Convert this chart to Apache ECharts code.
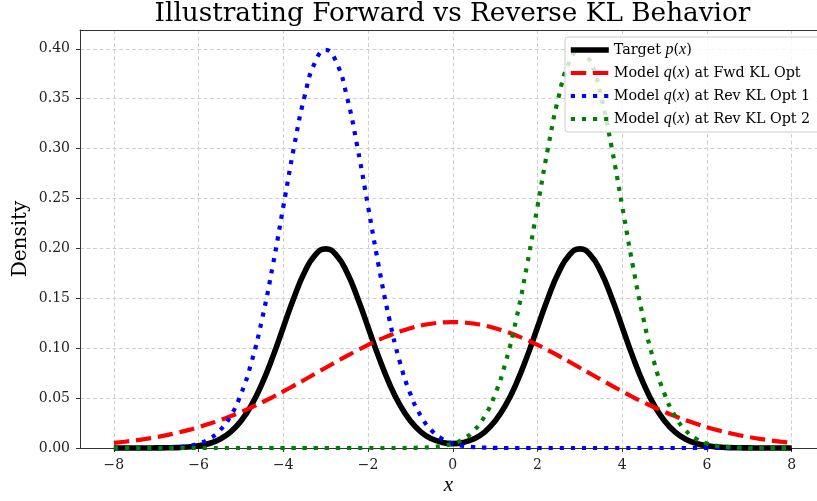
<!DOCTYPE html>
<html>
<head>
<meta charset="utf-8">
<script src="https://cdn.jsdelivr.net/npm/echarts@6/dist/echarts.min.js"></script>
<style>html,body{margin:0;padding:0;background:#fff;overflow:hidden;}#c{width:817px;height:501px;}</style>
</head>
<body>
<div id="c"></div>
<script>
var xs = [-8,-7.75,-7.5,-7.25,-7,-6.75,-6.5,-6.25,-6,-5.75,-5.5,-5.25,-5,-4.75,-4.5,-4.25,-4,-3.75,-3.5,-3.25,-3,-2.75,-2.5,-2.25,-2,-1.75,-1.5,-1.25,-1,-0.75,-0.5,-0.25,0,0.25,0.5,0.75,1,1.25,1.5,1.75,2,2.25,2.5,2.75,3,3.25,3.5,3.75,4,4.25,4.5,4.75,5,5.25,5.5,5.75,6,6.25,6.5,6.75,7,7.25,7.5,7.75,8];

var targetP = [0.0000,0.0000,0.0000,0.0000,0.0001,0.0002,0.0004,0.0010,0.0022,0.0045,0.0088,0.0159,0.0270,0.0431,0.0648,0.0913,0.1210,0.1506,0.1760,0.1933,0.1995,0.1933,0.1760,0.1506,0.1210,0.0913,0.0648,0.0432,0.0271,0.0160,0.0092,0.0056,0.0044,0.0056,0.0092,0.0160,0.0271,0.0432,0.0648,0.0913,0.1210,0.1506,0.1760,0.1933,0.1995,0.1933,0.1760,0.1506,0.1210,0.0913,0.0648,0.0431,0.0270,0.0159,0.0088,0.0045,0.0022,0.0010,0.0004,0.0002,0.0001,0.0000,0.0000,0.0000,0.0000];

var fwdQ = [0.0051,0.0063,0.0076,0.0091,0.0109,0.0129,0.0153,0.0179,0.0209,0.0242,0.0278,0.0318,0.0361,0.0408,0.0458,0.0511,0.0567,0.0625,0.0684,0.0744,0.0804,0.0864,0.0923,0.0979,0.1033,0.1083,0.1127,0.1167,0.1200,0.1227,0.1246,0.1258,0.1262,0.1258,0.1246,0.1227,0.1200,0.1167,0.1127,0.1083,0.1033,0.0979,0.0923,0.0864,0.0804,0.0744,0.0684,0.0625,0.0567,0.0511,0.0458,0.0408,0.0361,0.0318,0.0278,0.0242,0.0209,0.0179,0.0153,0.0129,0.0109,0.0091,0.0076,0.0063,0.0051];

var rev1Q = [0.0000,0.0000,0.0000,0.0000,0.0001,0.0004,0.0009,0.0020,0.0044,0.0091,0.0175,0.0317,0.0540,0.0863,0.1295,0.1826,0.2420,0.3011,0.3521,0.3867,0.3989,0.3867,0.3521,0.3011,0.2420,0.1826,0.1295,0.0863,0.0540,0.0317,0.0175,0.0091,0.0044,0.0020,0.0009,0.0004,0.0001,0.0000,0.0000,0.0000,0.0000,0.0000,0.0000,0.0000,0.0000,0.0000,0.0000,0.0000,0.0000,0.0000,0.0000,0.0000,0.0000,0.0000,0.0000,0.0000,0.0000,0.0000,0.0000,0.0000,0.0000,0.0000,0.0000,0.0000,0.0000];

var rev2Q = [0.0000,0.0000,0.0000,0.0000,0.0000,0.0000,0.0000,0.0000,0.0000,0.0000,0.0000,0.0000,0.0000,0.0000,0.0000,0.0000,0.0000,0.0000,0.0000,0.0000,0.0000,0.0000,0.0000,0.0000,0.0000,0.0000,0.0000,0.0000,0.0001,0.0004,0.0009,0.0020,0.0044,0.0091,0.0175,0.0317,0.0540,0.0863,0.1295,0.1826,0.2420,0.3011,0.3521,0.3867,0.3989,0.3867,0.3521,0.3011,0.2420,0.1826,0.1295,0.0863,0.0540,0.0317,0.0175,0.0091,0.0044,0.0020,0.0009,0.0004,0.0001,0.0000,0.0000,0.0000,0.0000];

var xTicks = [-8,-6,-4,-2,0,2,4,6,8];
var yTicks = [0,0.05,0.1,0.15,0.2,0.25,0.3,0.35,0.4];

var seriesNames = ['Target p(x)','Model q(x) at Fwd KL Opt','Model q(x) at Rev KL Opt 1','Model q(x) at Rev KL Opt 2'];
var richNames = {
  'Target p(x)': '{n|Target }{m|p}{n|(}{m|x}{n|)}',
  'Model q(x) at Fwd KL Opt': '{n|Model }{m|q}{n|(}{m|x}{n|) at Fwd KL Opt}',
  'Model q(x) at Rev KL Opt 1': '{n|Model }{m|q}{n|(}{m|x}{n|) at Rev KL Opt 1}',
  'Model q(x) at Rev KL Opt 2': '{n|Model }{m|q}{n|(}{m|x}{n|) at Rev KL Opt 2}'
};

function pairs(ys){ return xs.map(function(x,i){ return [x, ys[i]]; }); }
function minus(s){ return String(s).replace('-', '\u2212'); }

var serif = 'DejaVu Serif';
var chart = echarts.init(document.getElementById('c'), null, {renderer:'canvas'});
var gridLine = {show:true, lineStyle:{color:'#d0d0d0', width:1, type:[4,2.5]}};
var option = {
  animation:false,
  backgroundColor:'#fff',
  title:{
    text:'Illustrating Forward vs Reverse KL Behavior',
    left:447.5, top:-3.5, textAlign:'center',
    textStyle:{fontFamily:serif, fontSize:26.3, fontWeight:'normal', color:'#000'}
  },
  grid:{left:80, top:30, width:737, height:418, containLabel:false},
  legend:{
    orient:'vertical', left:565, top:37,
    data:seriesNames,
    itemWidth:38, itemHeight:14, itemGap:7,
    padding:[5,12,5,3],
    backgroundColor:'rgba(255,255,255,0.8)', borderColor:'#cccccc', borderWidth:1, borderRadius:3,
    lineStyle:{width:'inherit'},
    itemStyle:{opacity:0, color:'transparent', borderColor:'transparent', borderWidth:0},
    formatter:function(n){ return richNames[n]; },
    textStyle:{fontFamily:serif, fontSize:14, color:'#000',
      rich:{n:{fontFamily:serif, fontSize:14.3, color:'#000'}, m:{fontFamily:'Liberation Serif', fontStyle:'italic', fontSize:16, color:'#000'}}}
  },
  xAxis:[{
    type:'value', min:-8.8, max:8.597, position:'bottom',
    name:'x', nameLocation:'middle', nameGap:27, nameMoveOverlap:false,
    nameTextStyle:{fontFamily:'Liberation Serif', fontStyle:'italic', fontSize:21, color:'#000'},
    axisLine:{show:true, onZero:false, lineStyle:{color:'#333', width:1}},
    axisTick:{show:true, inside:false, length:4, customValues:xTicks, lineStyle:{color:'#333'}},
    axisLabel:{customValues:xTicks, margin:10, fontFamily:serif, fontSize:14, color:'#222', formatter:function(v){return minus(v);}},
    splitLine:gridLine
  },{
    type:'value', min:-8.8, max:8.597, position:'top',
    axisLine:{show:true, onZero:false, lineStyle:{color:'#333', width:1}},
    axisTick:{show:false}, axisLabel:{show:false}, splitLine:{show:false}
  }],
  yAxis:{
    type:'value', min:0, max:0.4188,
    name:'Density', nameLocation:'middle', nameGap:49, nameRotate:90, nameMoveOverlap:false,
    nameTextStyle:{fontFamily:serif, fontSize:20, color:'#000'},
    axisLine:{show:true, onZero:false, lineStyle:{color:'#333', width:1}},
    axisTick:{show:true, inside:false, length:4, customValues:yTicks, lineStyle:{color:'#333'}},
    axisLabel:{customValues:yTicks, margin:10, fontFamily:serif, fontSize:14, color:'#222', formatter:function(v){return v.toFixed(2);}},
    splitLine:gridLine
  },
  series:[
    {name:seriesNames[0], type:'line', data:pairs(targetP), smooth:true, symbol:'none', clip:false,
     lineStyle:{color:'#000000', width:5.6, type:'solid'}, itemStyle:{color:'#000000'}},
    {name:seriesNames[1], type:'line', data:pairs(fwdQ), smooth:true, symbol:'none', clip:false,
     lineStyle:{color:'#ff0000', width:4.2, type:[15.4,6.7], cap:'butt'}, itemStyle:{color:'#ff0000'}},
    {name:seriesNames[2], type:'line', data:pairs(rev1Q), smooth:true, symbol:'none', clip:false,
     lineStyle:{color:'#0000ff', width:4.2, type:[4.2,6.9], cap:'butt'}, itemStyle:{color:'#0000ff'}},
    {name:seriesNames[3], type:'line', data:pairs(rev2Q), smooth:true, symbol:'none', clip:false,
     lineStyle:{color:'#008000', width:4.2, type:[4.2,6.9], cap:'butt'}, itemStyle:{color:'#008000'}}
  ]
};
chart.setOption(option);
</script>
</body>
</html>
